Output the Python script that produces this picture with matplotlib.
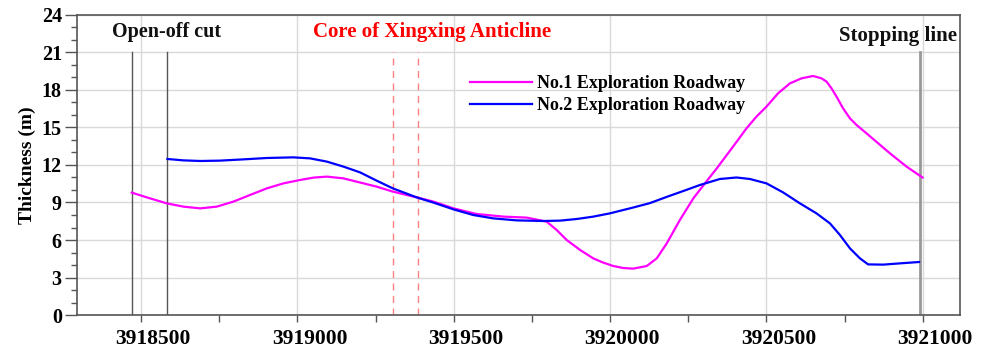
import matplotlib
matplotlib.use("Agg")
import matplotlib.pyplot as plt
import matplotlib.transforms as mtransforms
from matplotlib.ticker import MultipleLocator

plt.rcParams['font.family'] = ['Liberation Serif', 'DejaVu Serif']
plt.rcParams['font.weight'] = 'bold'

# Roadway No.1 (pink)
x1 = [3918470, 3918518, 3918582, 3918635, 3918689, 3918742, 3918795, 3918848,
      3918902, 3918955, 3919008, 3919051, 3919094, 3919147, 3919200, 3919253,
      3919305, 3919381, 3919435, 3919499, 3919573, 3919659, 3919733, 3919797,
      3919829, 3919861, 3919904, 3919946, 3919978, 3920010, 3920042, 3920074,
      3920117, 3920149, 3920181, 3920223, 3920266, 3920303, 3920341, 3920367,
      3920394, 3920436, 3920468, 3920500, 3920537, 3920575,
      3920612, 3920649, 3920676, 3920692, 3920708, 3920724, 3920745, 3920767,
      3920788, 3920820, 3920895, 3920948, 3920999]
y1 = [9.79, 9.41, 8.93, 8.67, 8.53, 8.67, 9.07, 9.6,
      10.13, 10.53, 10.8, 10.99, 11.07, 10.93, 10.6, 10.27,
      9.87, 9.41, 9.07, 8.53, 8.08, 7.87, 7.79, 7.47,
      6.8, 6.0, 5.2, 4.53, 4.19, 3.92, 3.76, 3.71,
      3.92, 4.53, 5.73, 7.6, 9.33, 10.53, 11.73, 12.6,
      13.5, 14.93, 15.87, 16.67, 17.73, 18.53,
      18.93, 19.12, 18.93, 18.67, 18.13, 17.47, 16.53, 15.73,
      15.2, 14.53, 12.93, 11.87, 11.0]

# Roadway No.2 (blue)
x2 = [3918584, 3918635, 3918689, 3918753, 3918827, 3918902, 3918987, 3919040,
      3919094, 3919147, 3919200, 3919253, 3919305, 3919381, 3919435, 3919499,
      3919562, 3919626, 3919701, 3919786, 3919840, 3919893, 3919946, 3919999,
      3920074, 3920127, 3920181, 3920234, 3920287, 3920351, 3920404, 3920447,
      3920500, 3920553, 3920607, 3920660, 3920703, 3920735, 3920767, 3920799,
      3920825, 3920873, 3920926, 3920988]
y2 = [12.48, 12.37, 12.32, 12.35, 12.45, 12.56, 12.61, 12.53,
      12.27, 11.87, 11.41, 10.75, 10.13, 9.41, 8.99, 8.45,
      8.0, 7.73, 7.57, 7.52, 7.55, 7.68, 7.87, 8.13,
      8.6, 8.95, 9.45, 9.92, 10.4, 10.88, 11.0, 10.88,
      10.53, 9.81, 8.93, 8.13, 7.33, 6.4, 5.33, 4.53,
      4.05, 4.03, 4.13, 4.24]

series_labels = ["No.1 Exploration Roadway", "No.2 Exploration Roadway"]
open_off_x = [3918470, 3918583]
anticline_x = [3919306, 3919384]
stopping_x = 3920990
y_ticks = list(range(0, 25, 3))
x_ticks = [3918500, 3919000, 3919500, 3920000, 3920500, 3921000]

fig = plt.figure(figsize=(9.88, 3.53), dpi=100)
ax = fig.add_axes([0.078, 0.1076, 0.894, 0.85])

ax.grid(True, which='major', color='#d9d9d9', linewidth=1.0, zorder=0)
ax.set_axisbelow(True)

for xv in open_off_x:
    ax.plot([xv, xv], [0, 21], color='#555555', linewidth=1.0, zorder=2)
for xv in anticline_x:
    ax.plot([xv, xv], [0, 21], color='#ff8080', linewidth=1.0,
            linestyle=(0, (5, 4)), zorder=2)
ax.plot([stopping_x, stopping_x], [0, 21], color='#999999', linewidth=2.0, zorder=2)

ax.plot(x1, y1, color='#ff00ff', linewidth=1.6, label=series_labels[0], zorder=3)
ax.plot(x2, y2, color='#0000ff', linewidth=1.6, label=series_labels[1], zorder=3)

ax.text(3918580, 22.6, "Open-off cut", ha='center', va='center', fontsize=14.5,
        fontweight='bold', color='#111111')
ax.text(3919430, 22.6, "Core of Xingxing Anticline", ha='center', va='center',
        fontsize=15, fontweight='bold', color='#ff0000')
ax.text(3921110, 22.3, "Stopping line", ha='right', va='center', fontsize=15,
        fontweight='bold', color='#111111')

ax.set_xlim(3918295, 3921120)
ax.set_ylim(0, 24)
ax.set_yticks(y_ticks)
ax.set_xticks(x_ticks)
ax.set_xticklabels([str(v) for v in x_ticks])
ax.yaxis.set_minor_locator(MultipleLocator(1))
ax.xaxis.set_minor_locator(MultipleLocator(250))
ax.tick_params(axis='y', which='major', length=9, width=1, colors='#555555',
               labelcolor='black', labelsize=14.5, pad=2)
ax.tick_params(axis='y', which='minor', length=4.5, width=1, colors='#555555')
ax.tick_params(axis='x', which='major', length=5, width=1, colors='#555555',
               labelcolor='black', labelsize=15.5, pad=5)
ax.tick_params(axis='x', which='minor', length=5, width=1, colors='#555555')
shift = mtransforms.ScaledTranslation(0.12, 0, fig.dpi_scale_trans)
for lab in ax.get_xticklabels():
    lab.set_fontweight('bold')
    lab.set_transform(lab.get_transform() + shift)
for lab in ax.get_yticklabels():
    lab.set_fontweight('bold')

for sp in ax.spines.values():
    sp.set_color('#555555')
    sp.set_linewidth(1.2)

ax.set_ylabel("Thickness (m)", fontsize=14, fontweight='bold', labelpad=4)

ax.legend(loc='upper left', bbox_to_anchor=(0.445, 0.80), frameon=False,
          handlelength=3.4, handletextpad=0.3, labelspacing=0.3,
          borderpad=0, borderaxespad=0, prop={'weight': 'bold', 'size': 13})

fig.savefig("out.png", dpi=100)
